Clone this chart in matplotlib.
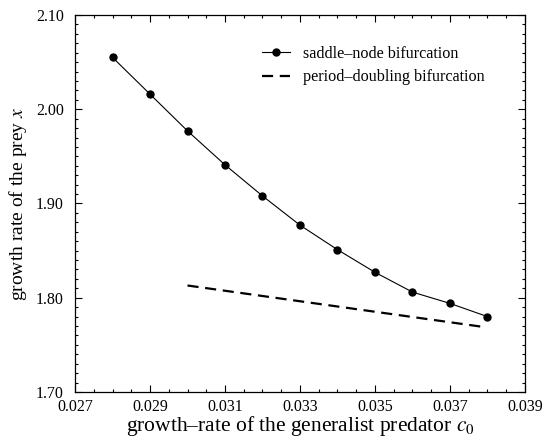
import numpy as np
import matplotlib
matplotlib.use("Agg")
import matplotlib.pyplot as plt
from matplotlib.ticker import MultipleLocator, FixedLocator, FormatStrFormatter

# saddle-node bifurcation points
c0_saddle = [0.028, 0.029, 0.030, 0.031, 0.032, 0.033, 0.034, 0.035, 0.036, 0.037, 0.038]
x_saddle = [2.055, 2.016, 1.977, 1.941, 1.908, 1.877, 1.851, 1.827, 1.806, 1.794, 1.780]

# period-doubling bifurcation curve
c0_pd = [0.030, 0.0379]
x_pd = [1.813, 1.769]

# labelled ticks
xticks = [0.027, 0.029, 0.031, 0.033, 0.035, 0.037, 0.039]
yticks = [1.70, 1.80, 1.90, 2.00, 2.10]

plt.rcParams['font.family'] = ['Liberation Serif', 'DejaVu Serif']
plt.rcParams['mathtext.fontset'] = 'stix'

fig = plt.figure(figsize=(5.42, 4.38), dpi=100)
ax = fig.add_axes([0.1384, 0.105, 0.8302, 0.8608])

ax.plot(c0_saddle, x_saddle, color='black', lw=0.8, marker='o', ms=5,
        label='saddle\u2013node bifurcation')
ax.plot(c0_pd, x_pd, color='black', lw=1.6, ls=(0, (5, 3)),
        label='period\u2013doubling bifurcation')

ax.set_xlim(0.027, 0.039)
ax.set_ylim(1.70, 2.10)
ax.xaxis.set_major_locator(FixedLocator(xticks))
ax.xaxis.set_minor_locator(MultipleLocator(0.0005))
ax.yaxis.set_major_locator(FixedLocator(yticks))
ax.yaxis.set_minor_locator(MultipleLocator(0.01))
ax.xaxis.set_major_formatter(FormatStrFormatter('%.3f'))
ax.yaxis.set_major_formatter(FormatStrFormatter('%.2f'))

ax.tick_params(which='both', direction='in', top=True, right=True,
               labelsize=11.5, width=0.8)
ax.tick_params(axis='x', pad=5)
ax.tick_params(axis='y', pad=8)
ax.tick_params(which='major', length=5)
ax.tick_params(which='minor', length=2.5)
for s in ax.spines.values():
    s.set_linewidth(0.9)

ax.set_xlabel('growth\u2013rate of the generalist predator $c_0$', fontsize=15.5, labelpad=-0.5)
ax.set_ylabel('growth rate of the prey $x$', fontsize=14, labelpad=5)

ax.legend(loc='upper left', frameon=False, fontsize=11.6, handlelength=1.75,
          handletextpad=0.8, borderaxespad=0, borderpad=0, labelspacing=0.45,
          bbox_to_anchor=(0.4156, 0.918))

fig.savefig('out.png', dpi=100)
